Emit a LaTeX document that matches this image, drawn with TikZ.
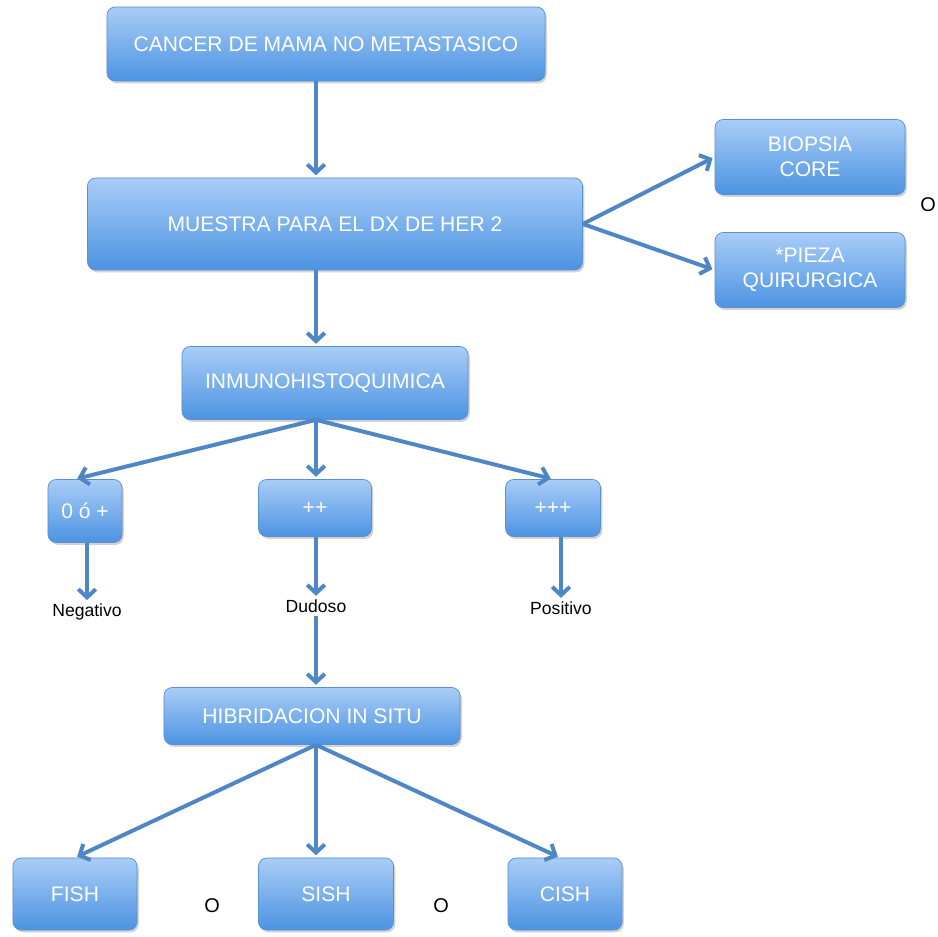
\documentclass[tikz,border=0pt]{standalone}
\usepackage{fontspec}
\setmainfont{Liberation Sans}
\usetikzlibrary{arrows.meta,shadows}

\definecolor{cajaarriba}{HTML}{A9CDF7}
\definecolor{cajaabajo}{HTML}{4C93E2}
\definecolor{cajaborde}{HTML}{5A8FD2}
\definecolor{azulflecha}{HTML}{4F87C6}

\begin{document}
\begin{tikzpicture}
[
    x=0.03cm, y=-0.03cm,
    caja/.style={rectangle, rounded corners=7pt, draw=cajaborde, line width=0.6pt,
        top color=cajaarriba, bottom color=cajaabajo,
        drop shadow={shadow xshift=1.5pt, shadow yshift=-2pt, opacity=0.35},
        text=white, inner sep=0pt, align=center, font=\fontsize{18}{21}\selectfont},
    etiqueta/.style={font=\fontsize{15}{18}\selectfont, inner sep=1pt},
    letra/.style={font=\fontsize{17}{20}\selectfont, inner sep=1pt},
    flecha/.style={draw=azulflecha, line width=3.4pt,
        -{Straight Barb[length=7pt, width=15pt]}, shorten >=2pt},
]
\path[use as bounding box, fill=white] (0,0) rectangle (938,937);
\coordinate (eje) at (316,0);

\node[caja, minimum width=13.14cm, minimum height=2.22cm] (cancer) at (326,44)
    {CANCER DE MAMA NO METASTASICO};
\node[caja, minimum width=14.85cm, minimum height=2.76cm] (muestra) at (335,224)
    {MUESTRA PARA EL DX DE HER 2};
\node[caja, minimum width=5.7cm, minimum height=2.25cm] (biopsia) at (810,157)
    {BIOPSIA\\CORE};
\node[caja, minimum width=5.7cm, minimum height=2.25cm] (pieza) at (810,270)
    {*PIEZA\\QUIRURGICA};
\node[letra] (o1) at (928,205) {O};
\node[caja, minimum width=8.58cm, minimum height=2.19cm] (inmuno) at (325,383)
    {INMUNOHISTOQUIMICA};
\node[caja, minimum width=2.22cm, minimum height=1.89cm] (cero) at (85,511) {0 ó +};
\node[caja, minimum width=3.39cm, minimum height=1.71cm] (dos) at (315,508) {++};
\node[caja, minimum width=2.85cm, minimum height=1.71cm] (tres) at (553,508) {+++};
\node[etiqueta] (negativo) at (87,612) {Negativo};
\node[etiqueta] (dudoso) at (316,606) {Dudoso};
\node[etiqueta] (positivo) at (561,608) {Positivo};
\node[caja, minimum width=8.88cm, minimum height=1.71cm] (hibrid) at (312,716)
    {HIBRIDACION IN SITU};
\node[caja, minimum width=3.72cm, minimum height=2.16cm] (fish) at (75,894) {FISH};
\node[caja, minimum width=4.05cm, minimum height=2.16cm] (sish) at (326,894) {SISH};
\node[caja, minimum width=3.42cm, minimum height=2.16cm] (cish) at (565,894) {CISH};
\node[letra] (o2) at (212,906) {O};
\node[letra] (o3) at (441,906) {O};

\draw[flecha] (cancer.south -| eje) -- (muestra.north -| eje);
\draw[flecha] (muestra.east) -- (biopsia.west);
\draw[flecha] (muestra.east) -- (pieza.west);
\draw[flecha] (muestra.south -| eje) -- (inmuno.north -| eje);
\draw[flecha] (inmuno.south -| eje) -- ([xshift=-0.3cm]cero.north);
\draw[flecha] (inmuno.south -| eje) -- (dos.north -| eje);
\draw[flecha] (inmuno.south -| eje) -- (tres.north);
\draw[flecha] (cero.south -| negativo) -- (negativo.north);
\draw[flecha] (dos.south -| eje) -- (dudoso.north -| eje);
\draw[flecha] (tres.south -| positivo) -- (positivo.north);
\draw[flecha, shorten <=2pt] (dudoso.south -| eje) -- (hibrid.north -| eje);
\draw[flecha] (hibrid.south -| eje) -- (fish.north);
\draw[flecha] (hibrid.south -| eje) -- (sish.north -| eje);
\draw[flecha] (hibrid.south -| eje) -- ([xshift=-0.15cm]cish.north);
\end{tikzpicture}
\end{document}
